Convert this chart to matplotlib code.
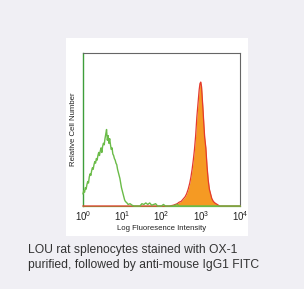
import numpy as np
import matplotlib
matplotlib.use("Agg")
import matplotlib.pyplot as plt
from matplotlib.patches import Rectangle
from matplotlib.ticker import LogFormatterMathtext, FixedLocator, NullLocator

# --- data (log10 fluorescence position, % of axis height) ---
green_log = [0.00, 0.02, 0.04, 0.06, 0.08, 0.10, 0.12, 0.14, 0.16, 0.18,
             0.20, 0.22, 0.24, 0.26, 0.28, 0.30, 0.32, 0.34, 0.36, 0.38,
             0.40, 0.42, 0.44, 0.46, 0.48, 0.50, 0.52, 0.54, 0.56, 0.58,
             0.60, 0.62, 0.64, 0.66, 0.68, 0.70, 0.72, 0.74, 0.76, 0.78,
             0.80, 0.82, 0.84, 0.86, 0.88, 0.90, 0.92, 0.94, 0.96, 0.98,
             1.00, 1.02, 1.04, 1.06, 1.08, 1.10, 1.12, 1.15, 1.20, 1.25,
             1.30, 1.45, 1.50, 1.55, 1.60, 1.65, 1.70, 1.75, 1.85, 1.90,
             2.00, 2.05, 2.10, 2.30, 2.40, 2.45, 4.00]
green_val = [8, 10, 9, 12, 11, 14, 16, 15, 19, 21,
             20, 23, 25, 24, 27, 29, 28, 31, 30, 33,
             35, 33, 36, 38, 35, 39, 41, 40, 44, 47,
             50, 43, 46, 41, 44, 40, 37, 38, 34, 33,
             31, 30, 28, 27, 24, 22, 20, 18, 15, 12,
             10, 8, 6, 4, 3, 2.5, 2, 1, 1.5, 0.5,
             0, 0, 1.5, 1, 2, 1, 2, 0.5, 1.5, 0,
             0, 1, 0, 0, 1, 0, 0]

stain_log = [0.00, 2.20, 2.30, 2.35, 2.40, 2.45, 2.50, 2.55, 2.60, 2.64,
             2.68, 2.72, 2.75, 2.78, 2.81, 2.84, 2.87, 2.90, 2.92, 2.94,
             2.96, 2.98, 3.00, 3.02, 3.04, 3.06, 3.08, 3.10, 3.13, 3.16,
             3.19, 3.22, 3.25, 3.28, 3.32, 3.36, 3.42, 3.48, 4.00]
stain_val = [0, 0, 0.5, 1, 1.5, 2.5, 3, 4.5, 6, 8,
             11, 15, 19, 24, 30, 37, 46, 58, 64, 70,
             76, 80, 81, 78, 70, 62, 53, 45, 38, 26,
             17, 11, 8, 5, 3, 2, 1, 0, 0]

xtick_decades = [0, 1, 2, 3, 4]
x_label = "Log Fluoresence Intensity"
y_label = "Relative Cell Number"
caption_lines = ["LOU rat splenocytes stained with OX-1",
                 "purified, followed by anti-mouse IgG1 FITC"]

plt.rcParams['mathtext.fontset'] = 'custom'
plt.rcParams['mathtext.rm'] = 'Liberation Sans'
plt.rcParams['mathtext.it'] = 'Liberation Sans'

W, H = 304, 289
fig = plt.figure(figsize=(W / 100, H / 100), dpi=100)
fig.patch.set_facecolor('#f0eff4')

# white panel
fig.patches.append(Rectangle((66 / W, 1 - 236 / H), (248 - 66) / W, (236 - 38) / H,
                             transform=fig.transFigure, facecolor='white',
                             edgecolor='none', zorder=-5))

ax = fig.add_axes([83 / W, 1 - 206 / H, (240 - 83) / W, (206 - 53) / H])
ax.set_zorder(2)
ax.set_facecolor('white')

gx = 10 ** np.array(green_log)
sx = 10 ** np.array(stain_log)

ax.fill_between(sx, stain_val, 0, color='#f59a23', linewidth=0, zorder=2)
ax.plot(sx, stain_val, color='#e43a2c', linewidth=0.9, zorder=3, clip_on=False)
ax.plot(gx, green_val, color='#6abb48', linewidth=1.0, zorder=4, clip_on=False)

ax.set_xscale('log')
ax.set_xlim(1, 1e4)
ax.set_ylim(0, 100)
ax.xaxis.set_major_locator(FixedLocator([10 ** d for d in xtick_decades]))
ax.xaxis.set_minor_locator(NullLocator())
ax.xaxis.set_major_formatter(LogFormatterMathtext())
ax.set_yticks([])
ax.tick_params(axis='x', length=0, pad=2.2, labelsize=7, colors='#222222')
for lab in ax.get_xticklabels():
    lab.set_fontfamily(['Liberation Sans Narrow', 'Liberation Sans'])

for s in ['top', 'right']:
    ax.spines[s].set_color('#666666')
    ax.spines[s].set_linewidth(0.8)
ax.spines['left'].set_color('#3e9e3a')
ax.spines['left'].set_linewidth(1.0)
ax.spines['bottom'].set_color('#6abb48')
ax.spines['bottom'].set_linewidth(0.9)

ax.set_xlabel(x_label, fontsize=5.6, labelpad=1.2, color='#222222',
              family=['Liberation Sans Narrow', 'Liberation Sans'])
ax.set_ylabel(y_label, fontsize=5.6, labelpad=4.5, color='#222222',
              family=['Liberation Sans Narrow', 'Liberation Sans'])

for i, line in enumerate(caption_lines):
    fig.text(28 / W, 1 - (253 + 15 * i) / H, line, fontsize=8.7, color='#333333',
             family=['Liberation Sans', 'DejaVu Sans'], va='baseline', ha='left')

fig.savefig('out.png', dpi=100, facecolor=fig.get_facecolor())
